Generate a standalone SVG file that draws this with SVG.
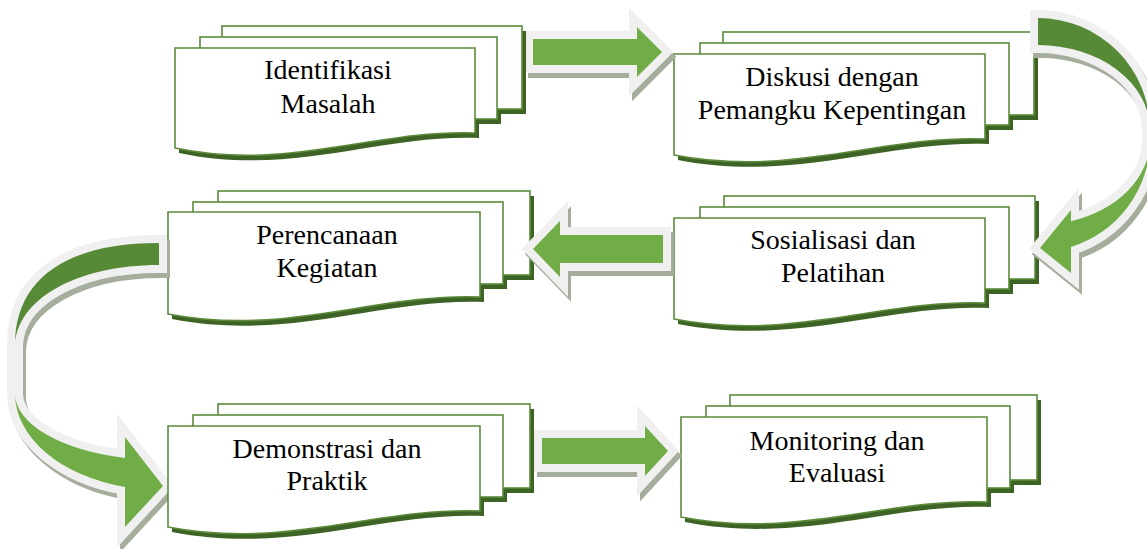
<svg xmlns="http://www.w3.org/2000/svg" width="1147" height="549" viewBox="0 0 1147 549">
<style>
.shd rect,.shd path{fill:#3e6425;stroke:none}
.box{fill:#ffffff;stroke:#5b8b3a;stroke-width:1.6}
text{font-family:'Liberation Serif','Times New Roman',serif;font-size:28px;text-anchor:middle;fill:#000000}
.sh{fill:#a5ae9c;stroke:#a5ae9c;stroke-width:16;stroke-linejoin:miter;stroke-miterlimit:10}
.ol{fill:#f0f0f0;stroke:#f0f0f0;stroke-width:16;stroke-linejoin:miter;stroke-miterlimit:10}
.lg{fill:#70ad47}
.dg{fill:#568a37}
</style>
<rect width="1147" height="549" fill="#ffffff"/>

<g id="n2">
<g class="shd" transform="translate(4,5)"><rect x="723" y="32" width="311" height="83"/><rect x="700" y="43" width="309" height="82"/><path d="M674,54 H985 V139 C881,135 793,178 674,155 Z"/></g>
<rect class="box" x="723" y="32" width="311" height="83"/>
<rect class="box" x="700" y="43" width="309" height="82"/>
<path class="box" d="M674,54 H985 V139 C881,135 793,178 674,155 Z"/>
<text font-family="Liberation Serif, serif" x="832" y="86">Diskusi dengan</text>
<text font-family="Liberation Serif, serif" x="832" y="119">Pemangku Kepentingan</text>
</g>

<g id="n3">
<g class="shd" transform="translate(4,5)"><rect x="218" y="191" width="312" height="84"/><rect x="193" y="202" width="310" height="82"/><path d="M168,212 H480 V297 C376,293 287,337 168,314 Z"/></g>
<rect class="box" x="218" y="191" width="312" height="84"/>
<rect class="box" x="193" y="202" width="310" height="82"/>
<path class="box" d="M168,212 H480 V297 C376,293 287,337 168,314 Z"/>
<text font-family="Liberation Serif, serif" x="327" y="244">Perencanaan</text>
<text font-family="Liberation Serif, serif" x="327" y="277">Kegiatan</text>
</g>

<g id="n4">
<g class="shd" transform="translate(4,5)"><rect x="724" y="196" width="311" height="83"/><rect x="700" y="207" width="309" height="82"/><path d="M674,218 H985 V303 C881,299 793,342 674,319 Z"/></g>
<rect class="box" x="724" y="196" width="311" height="83"/>
<rect class="box" x="700" y="207" width="309" height="82"/>
<path class="box" d="M674,218 H985 V303 C881,299 793,342 674,319 Z"/>
<text font-family="Liberation Serif, serif" x="833" y="249">Sosialisasi dan</text>
<text font-family="Liberation Serif, serif" x="833" y="282">Pelatihan</text>
</g>

<g id="n6">
<g class="shd" transform="translate(4,5)"><rect x="730" y="395" width="307" height="85"/><rect x="706" y="406" width="304" height="82"/><path d="M681,417 H987 V502 C885,498 798,540 681,517 Z"/></g>
<rect class="box" x="730" y="395" width="307" height="85"/>
<rect class="box" x="706" y="406" width="304" height="82"/>
<path class="box" d="M681,417 H987 V502 C885,498 798,540 681,517 Z"/>
<text font-family="Liberation Serif, serif" x="837" y="450">Monitoring dan</text>
<text font-family="Liberation Serif, serif" x="837" y="482">Evaluasi</text>
</g>

<g id="connectors">
<g id="a1">
<polygon class="sh" transform="translate(3,5)" points="533,39 637,39 637,27 662,52 637,77 637,65 533,65"/>
<polygon class="ol" points="533,39 637,39 637,27 662,52 637,77 637,65 533,65"/>
<polygon class="lg" points="533,39 637,39 637,27 662,52 637,77 637,65 533,65"/>
</g>
<g id="a2">
<path class="sh" transform="translate(3,5)" d="M1038,18 A112,112 0 0 1 1150,130 L1150,140 A112,112 0 0 1 1071,247 L1071,273 L1040,248 L1071,210 L1071,221.2 A112,85 0 0 0 1150,140 L1150,130 A112,85 0 0 0 1038,45 Z"/>
<path class="ol" d="M1038,18 A112,112 0 0 1 1150,130 L1150,140 A112,112 0 0 1 1071,247 L1071,273 L1040,248 L1071,210 L1071,221.2 A112,85 0 0 0 1150,140 L1150,130 A112,85 0 0 0 1038,45 Z"/>
<path class="dg" d="M1038,18 A112,112 0 0 1 1150,130 A112,85 0 0 0 1038,45 Z"/>
<path class="lg" d="M1150,140 A112,112 0 0 1 1071,247 L1071,273 L1040,248 L1071,210 L1071,221.2 A112,85 0 0 0 1150,140 Z"/>
</g>
<g id="a3">
<polygon class="sh" transform="translate(3,5)" points="663,235 560,235 560,221 533,249 560,277 560,263 663,263"/>
<polygon class="ol" points="663,235 560,235 560,221 533,249 560,277 560,263 663,263"/>
<polygon class="lg" points="663,235 560,235 560,221 533,249 560,277 560,263 663,263"/>
</g>
<g id="a4">
<path class="sh" transform="translate(3,5)" d="M159,243 C66,243 15,279 15,345 L15,393 A147,97 0 0 0 125,487 L125,527 L163,486 L125,437 L125,458 A147,67 0 0 1 15,393 L15,345 C17,300 75,265 159,265 Z"/>
<path class="ol" d="M159,243 C66,243 15,279 15,345 L15,393 A147,97 0 0 0 125,487 L125,527 L163,486 L125,437 L125,458 A147,67 0 0 1 15,393 L15,345 C17,300 75,265 159,265 Z"/>
<path class="dg" d="M159,243 C66,243 15,279 15,345 C17,300 75,265 159,265 Z"/>
<path class="lg" d="M15,393 A147,67 0 0 0 125,458 L125,437 L163,486 L125,527 L125,487 A147,97 0 0 1 15,393 Z"/>
</g>
<g id="a5">
<polygon class="sh" transform="translate(3,5)" points="542,438 645,438 645,426 668,451 645,476 645,464 542,464"/>
<polygon class="ol" points="542,438 645,438 645,426 668,451 645,476 645,464 542,464"/>
<polygon class="lg" points="542,438 645,438 645,426 668,451 645,476 645,464 542,464"/>
</g>
</g>

<g id="n1">
<g class="shd" transform="translate(4,5)"><rect x="222" y="26" width="300" height="83"/><rect x="200" y="37" width="297" height="82"/><path d="M175,48 H475 V133 C375,129 290,172 175,148 Z"/></g>
<rect class="box" x="222" y="26" width="300" height="83"/>
<rect class="box" x="200" y="37" width="297" height="82"/>
<path class="box" d="M175,48 H475 V133 C375,129 290,172 175,148 Z"/>
<text font-family="Liberation Serif, serif" x="328" y="79">Identifikasi</text>
<text font-family="Liberation Serif, serif" x="328" y="113">Masalah</text>
</g>

<g id="n5">
<g class="shd" transform="translate(4,5)"><rect x="218" y="404" width="312" height="84"/><rect x="193" y="415" width="310" height="82"/><path d="M168,426 H480 V511 C376,507 287,550 168,527 Z"/></g>
<rect class="box" x="218" y="404" width="312" height="84"/>
<rect class="box" x="193" y="415" width="310" height="82"/>
<path class="box" d="M168,426 H480 V511 C376,507 287,550 168,527 Z"/>
<text font-family="Liberation Serif, serif" x="327" y="458">Demonstrasi dan</text>
<text font-family="Liberation Serif, serif" x="327" y="490">Praktik</text>
</g>
</svg>
